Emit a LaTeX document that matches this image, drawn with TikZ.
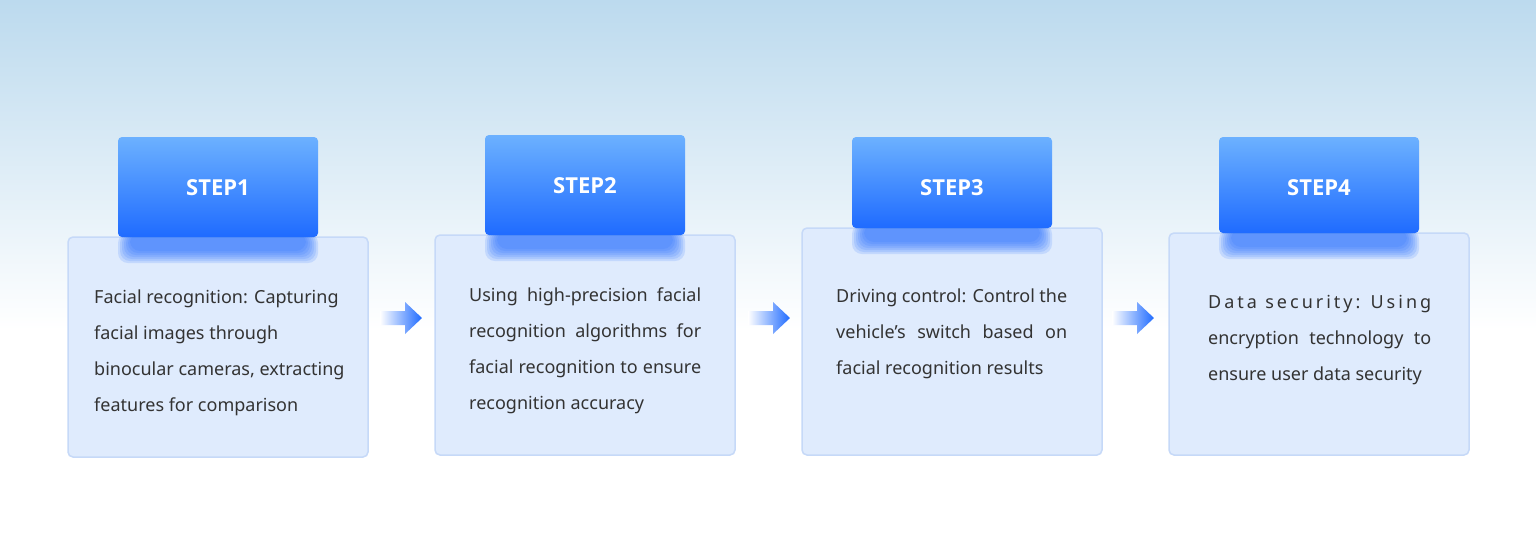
\documentclass[tikz,border=0pt]{standalone}
\usepackage{fontspec}
\setmainfont{Noto Sans}
\newfontfamily\stepfont{Open Sans}[UprightFont=*-Bold]
\usetikzlibrary{fadings}
\definecolor{hdtop}{HTML}{6CB1FF}
\definecolor{hdbot}{HTML}{1F6BFF}
\definecolor{bodyc}{HTML}{DFEBFD}
\definecolor{bodyb}{HTML}{C6D9F8}
\definecolor{txt}{HTML}{333333}
\definecolor{bgtop}{HTML}{BCDAEE}
\newcommand{\jl}[2]{\makebox[#1][s]{#2}}
\begin{document}
\begin{tikzpicture}[x=1pt,y=-1pt,
  hdbox/.style={rounded corners=4pt,top color=hdtop,bottom color=hdbot,draw=none},
  bodybox/.style={rounded corners=5pt,fill=bodyc,draw=bodyb,line width=1.5pt},
  steplbl/.style={text=white,font=\stepfont\fontsize{22}{26}\selectfont},
  desc/.style={text=txt,font=\fontsize{18}{36}\selectfont,anchor=north west,inner sep=0pt,align=left},
  flowarrow/.style={fill=hdbot,draw=none}]
\useasboundingbox (0,0) rectangle (1536,550);
\fill[white] (0,0) rectangle (1536,550);
\shade[top color=bgtop,bottom color=white] (0,0) rectangle (1536,330);
\foreach \i/\hx/\hy/\hb/\bb in {1/118/137/237/457, 2/485/135/235/455, 3/852/137/228/455, 4/1219/137/233/455}{
  \path[bodybox] (\hx-50,\hb) rectangle (\hx+250,\bb);
  \foreach \k in {0,2,4,6,8,10,12}{
    \fill[hdbot,opacity=0.14,rounded corners=10pt] (\hx+\k,\hb-4) rectangle (\hx+200-\k,\hb+26-\k);
  }
  \path[hdbox] (\hx,\hy) rectangle (\hx+200,\hb);
  \node[steplbl] (s\i) at (\hx+100,\hy+51) {STEP\i};
}
\node[desc] (t1) at (94,290) {Facial recognition: Capturing\\facial images through\\binocular cameras, extracting\\features for comparison};
\node[desc] (t2) at (469,288) {\jl{232pt}{Using high-precision facial}\\\jl{232pt}{recognition algorithms for}\\\jl{232pt}{facial recognition to ensure}\\recognition accuracy};
\node[desc] (t3) at (836,289) {\jl{231pt}{Driving control: Control the}\\\jl{231pt}{vehicle's switch based on}\\facial recognition results};
\node[desc] (t4) at (1208,295) {\jl{223pt}{D\,a\,t\,a \ s\,e\,c\,u\,r\,i\,t\,y\,: \ U\,s\,i\,n\,g}\\\jl{223pt}{encryption technology to}\\ensure user data security};
\foreach \ax in {380,748,1112}{
  \shade[left color=white,right color=hdbot] (\ax,311) -- (\ax+25,311) -- (\ax+25,302) -- (\ax+42,318) -- (\ax+25,334) -- (\ax+25,325) -- (\ax,325) -- cycle;
}
\end{tikzpicture}
\end{document}
